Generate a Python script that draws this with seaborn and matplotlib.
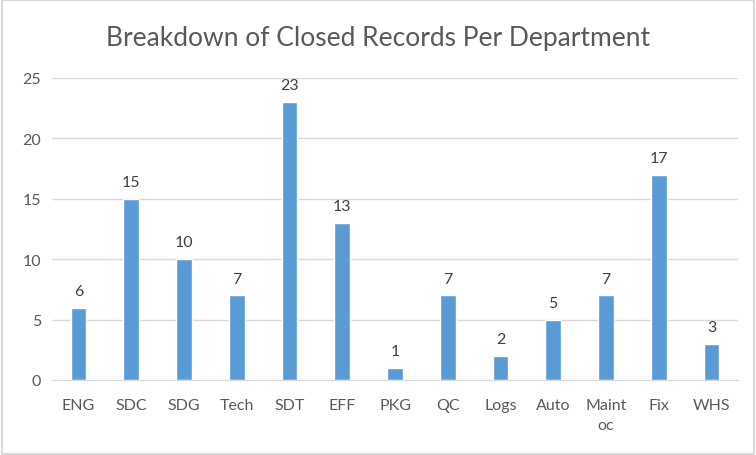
import pandas as pd
import matplotlib.pyplot as plt
import seaborn as sns

departments = ["ENG", "SDC", "SDG", "Tech", "SDT", "EFF", "PKG", "QC", "Logs", "Auto", "Maint\noc", "Fix", "WHS"]
closed = [6, 15, 10, 7, 23, 13, 1, 7, 2, 5, 7, 17, 3]

df = pd.DataFrame({"Department": departments, "Closed": closed})

sns.set_style("white")
plt.rcParams["font.family"] = ["Lato", "DejaVu Sans"]

fig = plt.figure(figsize=(7.56, 4.56), dpi=100)
ax = fig.add_axes([0.069, 0.1645, 0.907, 0.6623])

sns.barplot(data=df, x="Department", y="Closed", color="#5B9BD5", width=0.3, saturation=1, ax=ax)

ax.set_ylim(0, 25)
ax.set_yticks(range(0, 26, 5))
ax.yaxis.grid(True, color="#D9D9D9", linewidth=1)
ax.set_axisbelow(True)
for s in ["top", "right", "left"]:
    ax.spines[s].set_visible(False)
ax.spines["bottom"].set_color("#D9D9D9")
ax.tick_params(axis="both", length=0, labelsize=11.5, colors="#595959", pad=8)
ax.tick_params(axis="x", pad=13)
for lbl in ax.get_xticklabels():
    lbl.set_linespacing(1.55)
ax.set_xlabel("")
ax.set_ylabel("")

ax.bar_label(ax.containers[0], fontsize=11.5, color="#404040", padding=7)

fig.text(0.5, 0.915, "Breakdown of Closed Records Per Department", ha="center", va="center",
         fontsize=19, color="#595959")

fig.patches.append(plt.Rectangle((0.002, 0.003), 0.996, 0.994, transform=fig.transFigure,
                                 fill=False, edgecolor="#D9D9D9", linewidth=1.5))

fig.savefig("out.png", dpi=100)
